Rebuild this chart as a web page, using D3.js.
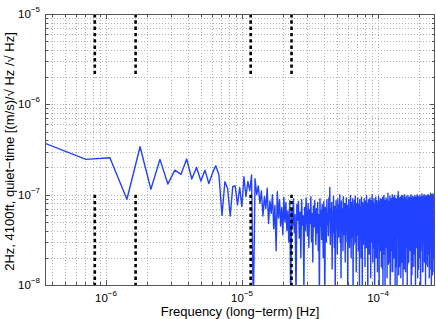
<!DOCTYPE html>
<html>
<head>
<meta charset="utf-8">
<script src="https://cdn.jsdelivr.net/npm/d3@7"></script>
<style>
body { margin: 0; background: #fff; }
text { font-family: "Liberation Sans", Arial, Helvetica, sans-serif; fill: #000; }
</style>
</head>
<body>
<script>
var w = 436;
var h = 319;
var margin = {top: 14, right: 1, bottom: 34, left: 45};

// bin width of the long-term spectrum [Hz]
var df = 3.56e-7;

// amplitude per bin, in units of 1e-9 (m/s)/sqrt(Hz)/sqrt(Hz)
// first 30 bins, read one by one
var asdLow = [370, 246, 256, 89, 339, 115, 246, 131, 187, 168,
              248, 149, 200, 142, 187, 133, 172, 209, 165, 59,
              139, 117, 58, 123, 125, 77, 120, 74, 158, 95];

// remaining bins (noise band)
var asdHigh = [
  140, 110, 165, 5, 150, 100, 125, 80, 110, 58,
  95, 70, 118, 48, 85, 62, 100, 42, 76, 24, 108, 55, 88, 45, 72, 36, 94, 50, 82, 40,
  66, 30, 86, 6, 70, 45, 90, 38, 60, 7, 78, 52, 84, 33, 64, 20, 88, 46, 58, 9,
  72, 40, 92, 55, 35, 80, 26, 68, 48, 95, 30, 62, 18, 75, 44, 86, 52, 28, 70, 38,
  82, 24, 60, 7, 90, 45, 66, 32, 78, 50, 20, 84, 40, 6, 72, 58, 30, 88, 46, 62,
  35, 92, 52, 120, 28, 70, 44, 82, 15, 64, 38, 96, 50, 26, 74, 8, 60, 86, 42, 68,
  22, 90, 55, 34, 78, 47, 100, 30, 62, 12, 85, 40, 70, 52, 24, 95, 36, 66, 48, 80,
  18, 72, 44, 92, 58, 30, 76, 9, 64, 40, 88, 50, 26, 70, 38, 98, 54, 20, 82, 46,
  62, 34, 90, 7, 74, 48, 28, 86, 56, 40, 96, 30, 68, 14, 80, 44, 60, 36, 92, 52,
  24, 78, 42, 66, 10, 88, 50, 32, 72, 58, 20, 94, 46, 64, 8, 82, 38, 56, 28, 76,
  44, 90, 34, 62, 16, 84, 52, 40, 70, 26, 98, 48, 66, 30, 80, 6, 58, 42, 88, 36,
  64, 22, 76, 50, 92, 38, 60, 12, 86, 46, 30, 72, 54, 100, 34, 68, 18, 82, 44, 58,
  26, 90, 48, 70, 9, 78, 40, 62, 32, 94, 52, 20, 74, 44, 86, 36, 66, 14, 80, 50,
  60, 28, 96, 42, 72, 7, 84, 54, 38, 68, 24, 90, 46, 62, 34, 78, 16, 88, 50, 40,
  70, 15, 94, 56, 10, 82, 44, 66, 36, 98, 52, 22, 76, 48, 60, 8, 86, 40, 70, 32,
  92, 54, 26, 80, 46, 64, 12, 88, 38, 72, 58, 104, 42, 17, 78, 50, 66, 18, 84, 44,
  62, 34, 96, 56, 8, 76, 48, 70, 14, 90, 52, 40, 82, 24, 68, 46, 100, 36, 60, 14,
  86, 50, 72, 32, 94, 44, 64, 20, 80, 56, 38, 98, 48, 66, 10, 84, 42, 74, 16, 90,
  54, 68, 26, 88, 46, 62, 7, 80, 40, 96, 58, 34, 76, 50, 108, 44, 64, 13, 86, 52,
  70, 36, 92, 48, 16, 82, 56, 66, 30, 94, 42, 74, 12, 88, 54, 62, 38, 98, 46, 70,
  18, 84, 58, 44, 96, 36, 68, 9, 80, 52, 64, 32, 90, 48, 74, 15, 100, 56, 20, 86,
  46, 66, 34, 92, 54, 72, 14, 84, 44, 62, 38, 96, 50, 78, 26, 88, 58, 42, 70, 8,
  82, 48, 64, 17, 98, 54, 74, 30, 90, 46, 60, 18, 86, 52, 68, 40, 94, 44, 76, 34,
  62, 88, 50, 24, 80, 56, 70, 42, 100, 48, 66, 10, 84, 38, 72, 54, 92, 13, 60, 46,
  78, 28, 96, 52, 68, 40, 86, 16, 74, 58, 44, 94, 36, 64, 50, 82, 22, 70, 48, 90,
  38, 66, 56, 98, 16, 76, 46, 62, 8, 88, 52, 72, 42, 94, 34, 68, 54, 84, 26, 60,
  80, 44, 100, 50, 70, 36, 90, 58, 12, 76, 48, 64, 40, 96, 54, 74, 15, 86, 46, 66,
  34, 92, 56, 72, 20, 84, 50, 62, 42, 98, 58, 78, 28, 88, 46, 68, 9, 82, 54, 70,
  40, 94, 48, 64, 32, 86, 60, 76, 44, 102, 52, 24, 80, 56, 72, 14, 90, 46, 66, 14,
  84, 50, 70, 36, 96, 58, 74, 42, 88, 30, 64, 52, 100, 44, 68, 18, 86, 56, 78, 40,
  92, 48, 62, 34, 82, 60, 10, 76, 54, 98, 46, 70, 17, 90, 58, 66, 26, 84, 50, 74,
  42, 96, 56, 64, 30, 88, 52, 72, 16, 80, 60, 44, 100, 48, 68, 36, 92, 54, 76, 22,
  86, 58, 70, 40, 98, 50, 64, 12, 82, 56, 74, 46, 94, 15, 66, 60, 88, 32, 78, 52,
  70, 44, 104, 58, 26, 90, 54, 76, 48, 96, 62, 8, 84, 50, 72, 40, 100, 60, 68, 36,
  92, 56, 78, 46, 88, 13, 74, 62, 102, 52, 66, 20, 94, 58, 80, 44, 86, 64, 38, 98,
  54, 72, 48, 90, 60, 14, 84, 66, 42, 100, 56, 76, 50, 94, 62, 80
];

// tidal lines: 2 weeks, 1 week, 1 day, 12 h
var tideFreqs = [8.27e-7, 1.65e-6, 1.157e-5, 2.31e-5];
var tideSpans = [[1e-8, 1e-7], [2e-6, 1e-5]];

var xMajor = [1e-6, 1e-5, 1e-4];
var xMajorExp = ["\u22126", "\u22125", "\u22124"];
var yMajor = [1e-8, 1e-7, 1e-6, 1e-5];
var yMajorExp = ["\u22128", "\u22127", "\u22126", "\u22125"];

var xTitle = "Frequency (long\u2212term) [Hz]";
var yTitle = "2Hz, 4100ft, quiet\u2212time [(m/s)/\u221A Hz /\u221A Hz]";

var amps = asdLow.concat(asdHigh);
var spectrum = amps.map(function(a, i) {
    return {f: (i + 1) * df, v: a * 1e-9};
});

var x = d3.scaleLog()
    .domain(d3.extent(spectrum, function(d) { return d.f; }))
    .range([margin.left, w - margin.right]);

var y = d3.scaleLog()
    .domain([1e-8, 1e-5])
    .range([h - margin.bottom, margin.top]);

var x0 = x.range()[0], x1 = x.range()[1];
var y0 = y.range()[0], y1 = y.range()[1];

var svg = d3.select("body")
    .append("svg")
    .attr("width", w)
    .attr("height", h);

svg.append("defs").append("clipPath")
    .attr("id", "plotclip")
    .append("rect")
    .attr("x", x0).attr("y", y1)
    .attr("width", x1 - x0).attr("height", y0 - y1);

var xTicks = x.ticks();
var yTicks = y.ticks();

//dotted grid at every decade and sub-decade
svg.append("g").selectAll("line")
    .data(xTicks)
    .enter().append("line")
    .attr("x1", function(d) { return Math.round(x(d)) + 0.5; })
    .attr("x2", function(d) { return Math.round(x(d)) + 0.5; })
    .attr("y1", y1).attr("y2", y0)
    .attr("stroke", "#b4b4b4")
    .attr("stroke-dasharray", "1,2");

svg.append("g").selectAll("line")
    .data(yTicks)
    .enter().append("line")
    .attr("y1", function(d) { return Math.round(y(d)) + 0.5; })
    .attr("y2", function(d) { return Math.round(y(d)) + 0.5; })
    .attr("x1", x0).attr("x2", x1)
    .attr("stroke", "#b4b4b4")
    .attr("stroke-dasharray", "1,2");

var line = d3.line()
    .x(function(d) { return x(d.f); })
    .y(function(d) { return y(d.v); });

svg.append("path")
    .datum(spectrum)
    .attr("clip-path", "url(#plotclip)")
    .attr("d", line)
    .attr("fill", "none")
    .attr("stroke", "#2142ff")
    .attr("stroke-width", 1.4)
    .attr("stroke-linejoin", "round");

//tidal markers, drawn as two dotted segments each
var tideSegs = [];
tideFreqs.forEach(function(f) {
    tideSpans.forEach(function(s) { tideSegs.push({f: f, lo: s[0], hi: s[1]}); });
});

svg.append("g").selectAll("line")
    .data(tideSegs)
    .enter().append("line")
    .attr("x1", function(d) { return x(d.f); })
    .attr("x2", function(d) { return x(d.f); })
    .attr("y1", function(d) { return y(d.hi); })
    .attr("y2", function(d) { return y(d.lo); })
    .attr("stroke", "#000")
    .attr("stroke-width", 2.6)
    .attr("stroke-dasharray", "3.4,2.9");

//inside ticks on all four sides
var isMajor = function(v) {
    var e = Math.log10(v);
    return Math.abs(e - Math.round(e)) < 1e-6;
};

var ticks = svg.append("g").attr("stroke", "#555").attr("stroke-width", 1);

ticks.selectAll(".xt")
    .data(xTicks)
    .enter().append("path")
    .attr("d", function(d) {
        var px = Math.round(x(d)) + 0.5, len = isMajor(d) ? 5 : 3;
        return "M" + px + "," + y0 + "v" + (-len) + "M" + px + "," + y1 + "v" + len;
    });

ticks.selectAll(".yt")
    .data(yTicks)
    .enter().append("path")
    .attr("d", function(d) {
        var py = Math.round(y(d)) + 0.5, len = isMajor(d) ? 5 : 3;
        return "M" + x0 + "," + py + "h" + len + "M" + x1 + "," + py + "h" + (-len);
    });

svg.append("rect")
    .attr("x", x0 + 0.5).attr("y", y1 + 0.5)
    .attr("width", x1 - x0 - 1).attr("height", y0 - y1)
    .attr("fill", "none")
    .attr("stroke", "#555")
    .attr("stroke-width", 1);

//tick labels as 10 with a superscript exponent
var xl = svg.append("g").selectAll("text")
    .data(xMajor)
    .enter().append("text")
    .attr("x", function(d) { return x(d); })
    .attr("y", y0 + 16.5)
    .attr("text-anchor", "middle")
    .style("font-size", "11.5px");
xl.append("tspan").text("10");
xl.append("tspan").attr("dy", -6).style("font-size", "8px")
    .text(function(d, i) { return xMajorExp[i]; });

var yl = svg.append("g").selectAll("text")
    .data(yMajor)
    .enter().append("text")
    .attr("x", x0 - 5)
    .attr("y", function(d) { return y(d) + 4; })
    .attr("text-anchor", "end")
    .style("font-size", "11.5px");
yl.append("tspan").text("10");
yl.append("tspan").attr("dy", -6).style("font-size", "8px")
    .text(function(d, i) { return yMajorExp[i]; });

svg.append("text")
    .attr("x", (x0 + x1) / 2)
    .attr("y", 315.5)
    .attr("text-anchor", "middle")
    .style("font-size", "13px")
    .text(xTitle);

svg.append("text")
    .attr("transform", "translate(14," + ((y0 + y1) / 2 + 2) + ") rotate(-90)")
    .attr("text-anchor", "middle")
    .style("font-size", "13px")
    .text(yTitle);
</script>
</body>
</html>
